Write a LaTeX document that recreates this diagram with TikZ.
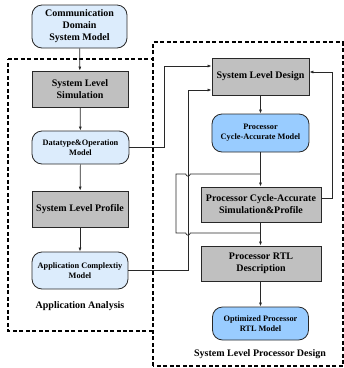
\documentclass[tikz,border=0pt]{standalone}
\usepackage{fontspec}
\setmainfont{Liberation Serif}
\usetikzlibrary{arrows.meta}
\definecolor{paleblue}{RGB}{220,236,252}
\definecolor{midblue}{RGB}{153,204,255}
\definecolor{boxgray}{RGB}{192,192,192}
\definecolor{edgec}{RGB}{40,40,40}
\begin{document}
\begin{tikzpicture}[x=1pt,y=-1pt,
  base/.style={draw=edgec,line width=0.8pt,align=center,inner sep=0pt,font=\bfseries\fontsize{10}{12}\selectfont},
  graybox/.style={base,fill=boxgray},
  lbox/.style={base,fill=paleblue,rounded corners=10pt},
  sbox/.style={base,fill=paleblue,rounded corners=10pt,font=\bfseries\fontsize{8.3}{10}\selectfont},
  pbox/.style={base,fill=midblue,rounded corners=10pt,font=\bfseries\fontsize{8.3}{10}\selectfont},
  arr/.style={draw=edgec,line width=0.7pt,-{Latex[length=4pt,width=3pt]}},
  ln/.style={draw=edgec,line width=0.7pt},
  region/.style={draw=black,line width=1.2pt,dash pattern=on 4pt off 2.5pt},
  lbl/.style={font=\bfseries\fontsize{10}{12}\selectfont,inner sep=0pt}]
\useasboundingbox (0,0) rectangle (344,368);
% regions
\draw[region] (8,59) -- (153,59);
\draw[region] (153,331) -- (8,331) -- (8,59);
\draw[region] (153,366) -- (153,42) -- (343,42) -- (343,366) -- cycle;
% nodes
\node[lbox,minimum width=95pt,minimum height=43pt] (cdsm) at (79.5,26.5) {Communication\\Domain\\System Model};
\node[graybox,minimum width=96pt,minimum height=36pt] (sls) at (80,89) {System Level\\Simulation};
\node[sbox,minimum width=97pt,minimum height=33pt] (dom) at (80.5,147.5) {Datatype\&Operation\\Model};
\node[graybox,minimum width=96pt,minimum height=36pt] (slp) at (80,209) {System Level Profile};
\node[sbox,minimum width=96pt,minimum height=37pt] (acm) at (80,270.5) {Application Complextiy\\Model};
\node[lbl] (aa) at (80,306) {Application Analysis};
\node[graybox,minimum width=97pt,minimum height=37pt] (sld) at (260.5,76.5) {System Level Design};
\node[pbox,minimum width=97pt,minimum height=38pt] (pcam) at (260.5,133) {Processor\\Cycle-Accurate Model};
\node[graybox,minimum width=120pt,minimum height=35pt] (pcasp) at (261,204.5) {Processor Cycle-Accurate\\Simulation\&Profile};
\node[graybox,minimum width=120pt,minimum height=35pt] (rtl) at (261,263.5) {Processor RTL\\Description};
\node[pbox,minimum width=96pt,minimum height=33pt] (ortl) at (260.5,323.5) {Optimized Processor\\RTL Model};
\node[lbl] (slpd) at (260,354) {System Level Processor Design};
% coordinates
\coordinate (b1) at (261,174);
\coordinate (b2) at (261,233);
% vertical chain
\draw[arr] (cdsm) -- (sls);
\draw[arr] (sls) -- (dom);
\draw[arr] (dom) -- (slp);
\draw[arr] (slp) -- (acm);
\draw[arr] (sld.south -| pcam.north) -- (pcam.north);
\draw[arr] (pcam.south) -- (pcasp.north -| pcam.south);
\draw[arr] (pcasp.south -| pcam.south) -- (rtl.north -| pcam.south);
\draw[arr] (rtl.south -| pcam.south) -- (ortl.north -| pcam.south);
% cross links
\draw[arr] (dom.east) -- (164,147.5) -- (164,66) -- (sld.west |- 0,66);
\draw[arr] (acm.east) -- (188,270.5) -- (188,90) -- (sld.west |- 0,90);
\draw[arr] (pcasp.east |- 0,198) -- (332,198) -- (332,72) -- (sld.east |- 0,72);
% bypass with hops (bumps upward)
\draw[ln] (b1) -- (190.2,174) arc[start angle=0,end angle=-180,radius=2.2pt] -- (176,174) -- (176,233) -- (185.8,233) arc[start angle=180,end angle=360,radius=2.2pt] -- (b2);
\end{tikzpicture}
\end{document}
